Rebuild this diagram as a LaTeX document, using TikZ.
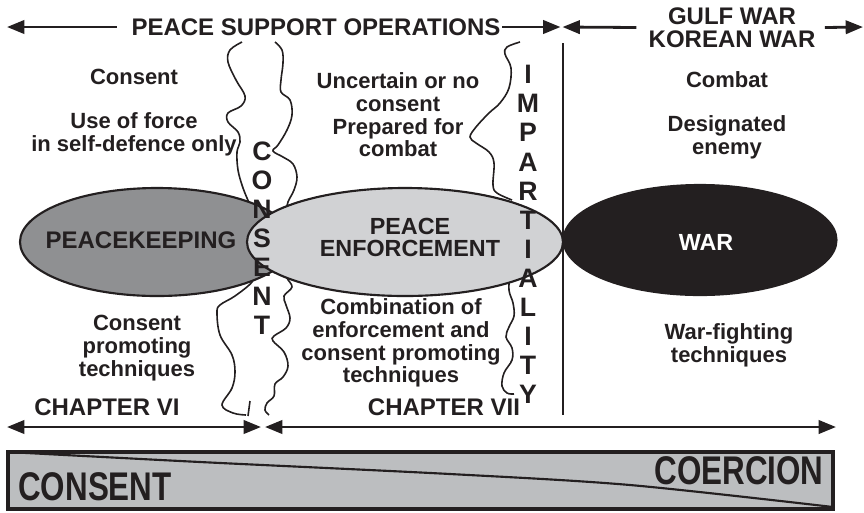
\documentclass[tikz,border=0pt]{standalone}
\usepackage{fontspec}
\setmainfont{Liberation Sans}
\usetikzlibrary{arrows.meta,shapes.geometric}
\definecolor{ink}{HTML}{231F20}
\definecolor{pkfill}{HTML}{8F9092}
\definecolor{pefill}{HTML}{D1D2D4}
\definecolor{barfill}{HTML}{BCBEC0}
\tikzset{
  lbl/.style={font=\fontsize{16.5}{17}\selectfont\bfseries, align=center, inner sep=0pt, text=ink},
  head/.style={font=\fontsize{18}{17}\selectfont\bfseries, align=center, inner sep=0pt, text=ink},
  vert/.style={font=\fontsize{20}{21.8}\selectfont\bfseries, align=center, inner sep=0pt, text=ink},
  big/.style={font=\fontsize{24}{24}\selectfont\bfseries, inner sep=0pt, text=ink},
  arr/.style={draw=ink, line width=2.1pt, -{Triangle[length=13pt,width=10pt]}},
  darr/.style={draw=ink, line width=2.1pt, {Triangle[length=13pt,width=10pt]}-{Triangle[length=13pt,width=10pt]}},
  wavy/.style={draw=ink, line width=1.2pt},
  blob/.style={ellipse, draw=ink, line width=1.6pt, inner sep=0pt}
}
\begin{document}
\begin{tikzpicture}[x=0.75pt,y=-0.75pt]
\useasboundingbox (0,0) rectangle (864,512);

% wavy boundary lines (drawn first, ellipses cover them)
\draw[wavy] plot[smooth, tension=0.6] coordinates {(242,42) (230,50) (228,62) (236,80) (245,96) (241,106) (228,113) (228,122) (238,132) (240,142) (237,152) (238,170) (243,188) (250,205) (254,215)};
\draw[wavy] plot[smooth, tension=0.6] coordinates {(256,270) (252,282) (235,296) (220,305) (217,313) (220,335) (232,355) (235,372) (232,388) (222,405) (233,413) (246,415)};
\draw[wavy] (250,401) -- (248,416);
\draw[wavy] plot[smooth, tension=0.6] coordinates {(275,42) (282,50) (283,63) (281,80) (281,92) (290,100) (292,115) (287,130) (278,145) (273,151) (283,157) (293,164) (297,177) (294,190) (288,202) (286,212)};
\draw[wavy] plot[smooth, tension=0.6] coordinates {(286,270) (287,278) (292,287) (284,296) (286,305) (290,318) (286,328) (274,336) (273,341) (284,352) (288,366) (283,377) (275,384) (274,396) (267,403) (265,410) (269,415)};
\draw[wavy] plot[smooth, tension=0.6] coordinates {(520,42) (507,47) (505,54) (511,68) (509,88) (500,103) (489,113) (476,127) (470,137) (476,143) (489,152) (494,163) (493,185) (497,193) (512,200)};
\draw[wavy] plot[smooth, tension=0.6] coordinates {(510,272) (509,290) (513,303) (514,316) (509,327) (506,337) (512,348) (512,360) (504,373) (502,386) (507,393) (514,394)};

% ellipses
\node[blob, fill=pkfill, minimum width=205.5pt, minimum height=81pt] (pk) at (157,242) {};
\node[blob, fill=pefill, minimum width=237pt, minimum height=81pt] (pe) at (405,242) {};
\node[blob, fill=ink, minimum width=204.75pt, minimum height=82.5pt] (war) at (700,240) {};

\node[head] (pkt) at (141,240) {PEACEKEEPING};
\node[head, font=\fontsize{17.5}{16}\selectfont\bfseries] (pet) at (410,237.5) {PEACE\\ENFORCEMENT};
\node[head, text=white, font=\fontsize{17.5}{16}\selectfont\bfseries] (wart) at (706,242) {WAR};

% divider
\coordinate (dvt) at (563,43);
\coordinate (dvb) at (563,415);
\draw[draw=ink, line width=1.3pt] (dvt) -- (dvb);

% vertical words
\node[vert] (vcons) at (262,238) {C\\O\\N\\S\\E\\N\\T};
\node[vert] (vimp) at (528,234.5) {I\\M\\P\\A\\R\\T\\I\\A\\L\\I\\T\\Y};

% top headings
\node[head] (pso) at (316,27) {PEACE SUPPORT OPERATIONS};
\node[head] (gw) at (732,27.5) {GULF WAR\\KOREAN WAR};
\coordinate (tl) at (7,27);
\coordinate (tm1) at (560.5,27);
\coordinate (tm2) at (562.5,27);
\coordinate (tr) at (863,27);
\draw[arr] ([xshift=-11pt]pso.west) -- (tl);
\draw[arr] ([xshift=1pt]pso.east) -- (tm1);
\draw[arr] ([xshift=-9pt]gw.west) -- (tm2);
\draw[arr] ([xshift=7pt]gw.east) -- (tr);

% descriptive texts
\node[lbl] (t1) at (134,77) {Consent};
\node[lbl] (t2) at (134,134) {Use of force\\in self-defence only};
\node[lbl] (t3) at (398,115) {Uncertain or no\\consent\\Prepared for\\combat};
\node[lbl] (t4) at (727,80) {Combat};
\node[lbl] (t5) at (727,137) {Designated\\enemy};
\node[lbl] (t6) at (137,348) {Consent\\promoting\\techniques};
\node[lbl] (t7) at (401,343) {Combination of\\enforcement and\\consent promoting\\techniques};
\node[lbl] (t8) at (729,345) {War-fighting\\techniques};

% chapters
\node[head] (ch6) at (107,407) {CHAPTER VI};
\node[head] (ch7) at (444,407) {CHAPTER VII};
\coordinate (bl) at (7,427);
\coordinate (bm1) at (261,427);
\coordinate (bm2) at (265,427);
\coordinate (br) at (836,427);
\draw[darr] (bl) -- (bm1);
\draw[darr] (bm2) -- (br);

% consent / coercion bar
\draw[draw=ink, fill=barfill, line width=2.3pt] (8,452) rectangle (833,509);
\draw[draw=ink, line width=1.6pt] plot[smooth, tension=0.5] coordinates {(8,452) (200,462) (450,474) (630,485) (833,507)};
\node[big] (cons) at (95,487) {\scalebox{0.98}[1.25]{CONSENT}};
\node[big] (coer) at (739,471) {\scalebox{0.98}[1.25]{COERCION}};
\end{tikzpicture}
\end{document}
